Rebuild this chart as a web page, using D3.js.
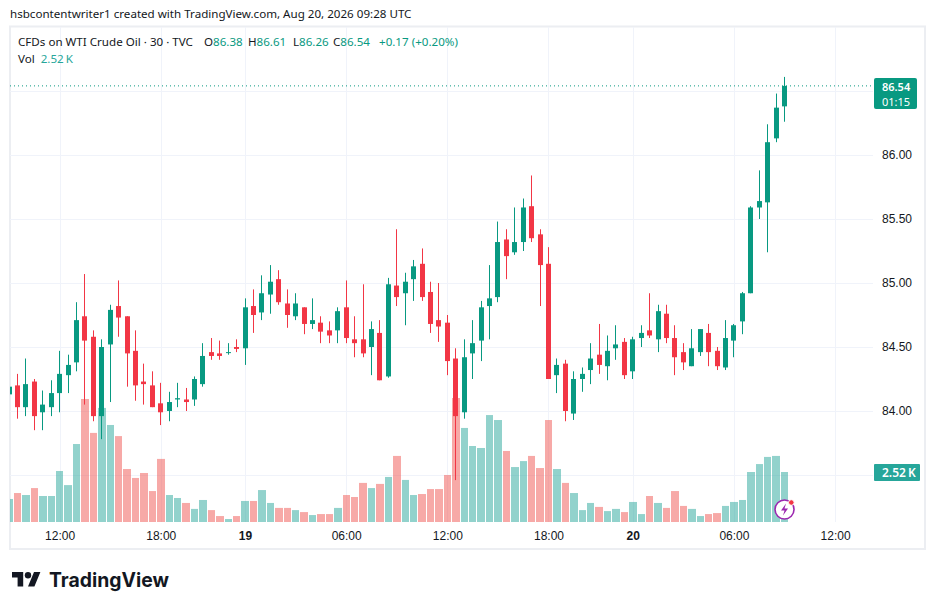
<!DOCTYPE html>
<html lang="en">
<head>
<meta charset="UTF-8">
<title>CFDs on WTI Crude Oil · 30 · TVC</title>
<script src="https://d3js.org/d3.v7.min.js"></script>
<style>
  body { margin: 0; background: #fff; }
  svg { display: block; font-family: "Noto Sans", "Open Sans", sans-serif; }
  .axis text { font-size: 12px; fill: #131722; }
</style>
</head>
<body>
<svg id="chart" width="935" height="610"></svg>
<script>
// 30 min bars, Aug 18 09:00 UTC to Aug 20 09:00 UTC (index = bar number, daily break skipped)
const opens = [84.13, 84.20, 84.03, 84.23, 83.99, 84.03, 84.14, 84.28, 84.38, 84.74,
  84.58, 83.96, 84.52, 84.82, 84.74, 84.47, 84.23, 84.20, 84.06, 84.00,
  84.09, 84.09, 84.09, 84.21, 84.46, 84.45, 84.455, 84.50, 84.49, 84.82,
  84.77, 84.91, 85.03, 84.84, 84.74, 84.81, 84.68, 84.69, 84.63, 84.63,
  84.81, 84.56, 84.56, 84.50, 84.61, 84.27, 84.98, 84.92, 85.03, 85.15,
  84.93, 84.71, 84.69, 84.41, 83.99, 84.45, 84.55, 84.82, 84.89, 85.34,
  85.24, 85.32, 85.60, 85.38, 85.15, 84.28, 84.37, 83.98, 84.25, 84.32,
  84.44, 84.35, 84.49, 84.54, 84.31, 84.57, 84.63, 84.56, 84.76, 84.57,
  84.46, 84.35, 84.46, 84.61, 84.47, 84.34, 84.55, 84.70, 84.92, 85.59,
  85.63, 86.13, 86.38];
const highs = [84.22, 84.29, 84.41, 84.25, 84.16, 84.24, 84.47, 84.44, 84.85, 85.07,
  84.63, 84.56, 84.83, 85.02, 84.74, 84.63, 84.37, 84.31, 84.22, 84.15,
  84.22, 84.18, 84.27, 84.53, 84.57, 84.55, 84.53, 84.56, 84.88, 84.95,
  85.06, 85.14, 85.10, 84.95, 84.92, 84.81, 84.88, 84.74, 84.70, 84.81,
  85.02, 84.74, 84.99, 84.70, 84.71, 85.04, 85.42, 85.08, 85.18, 85.27,
  85.01, 85.00, 84.75, 84.49, 84.56, 84.71, 84.86, 85.14, 85.48, 85.42,
  85.59, 85.66, 85.84, 85.42, 85.28, 84.41, 84.40, 84.31, 84.34, 84.53,
  84.68, 84.59, 84.67, 84.57, 84.58, 84.67, 84.92, 84.83, 84.83, 84.67,
  84.53, 84.64, 84.64, 84.68, 84.50, 84.71, 84.68, 84.93, 85.60, 85.88,
  86.24, 86.48, 86.61];
const lows = [84.10, 83.94, 83.96, 83.85, 83.85, 83.96, 83.99, 84.14, 84.31, 84.05,
  83.92, 83.78, 84.07, 84.58, 84.19, 84.08, 84.05, 84.03, 83.89, 83.92,
  84.03, 84.00, 84.04, 84.19, 84.40, 84.40, 84.44, 84.46, 84.36, 84.61,
  84.71, 84.76, 84.83, 84.65, 84.71, 84.60, 84.64, 84.53, 84.53, 84.53,
  84.53, 84.42, 84.42, 84.28, 84.24, 84.26, 84.82, 84.67, 84.86, 84.86,
  84.61, 84.54, 84.28, 83.46, 83.94, 84.25, 84.39, 84.56, 84.85, 85.03,
  85.22, 85.25, 85.32, 84.82, 84.25, 84.14, 83.92, 83.93, 84.15, 84.21,
  84.29, 84.24, 84.40, 84.25, 84.25, 84.50, 84.57, 84.46, 84.53, 84.28,
  84.32, 84.35, 84.43, 84.35, 84.32, 84.32, 84.42, 84.60, 84.92, 85.50,
  85.24, 86.10, 86.26];
const closes = [84.19, 84.03, 84.21, 83.96, 84.05, 84.14, 84.29, 84.36, 84.71, 84.55,
  83.96, 84.50, 84.79, 84.73, 84.45, 84.20, 84.21, 84.03, 83.99, 84.07,
  84.10, 84.07, 84.25, 84.43, 84.43, 84.43, 84.46, 84.485, 84.81, 84.75,
  84.92, 85.01, 84.85, 84.75, 84.84, 84.68, 84.71, 84.62, 84.59, 84.78,
  84.57, 84.53, 84.45, 84.64, 84.24, 84.99, 84.89, 85.01, 85.13, 84.89,
  84.68, 84.66, 84.39, 83.96, 84.42, 84.53, 84.81, 84.88, 85.32, 85.21,
  85.32, 85.59, 85.35, 85.14, 84.25, 84.36, 84.00, 84.25, 84.29, 84.41,
  84.36, 84.47, 84.52, 84.28, 84.56, 84.61, 84.59, 84.78, 84.57, 84.42,
  84.38, 84.49, 84.64, 84.46, 84.35, 84.57, 84.67, 84.92, 85.59, 85.64,
  86.10, 86.37, 86.54];
// volume in thousands
const volumes = [1.16, 1.46, 1.36, 1.71, 1.31, 1.31, 2.57, 1.86, 3.93, 6.20,
  4.49, 5.75, 4.89, 4.33, 2.67, 2.22, 2.47, 1.56, 3.18, 1.36,
  1.21, 0.96, 0.66, 1.11, 0.60, 0.30, 0.15, 0.30, 1.06, 1.06,
  1.61, 0.96, 0.71, 0.71, 0.60, 0.50, 0.35, 0.40, 0.40, 0.71,
  1.36, 1.26, 1.97, 1.71, 1.92, 2.27, 3.33, 2.12, 1.36, 1.41,
  1.66, 1.66, 2.37, 6.25, 4.74, 3.83, 3.73, 5.39, 5.14, 3.58,
  2.77, 3.07, 3.33, 2.72, 5.14, 2.67, 1.97, 1.46, 0.60, 0.96,
  0.76, 0.55, 0.66, 0.50, 1.01, 0.40, 1.31, 0.96, 0.71, 1.56,
  0.81, 0.66, 0.30, 0.40, 0.45, 0.81, 1.01, 1.11, 2.52, 2.92,
  3.28, 3.33, 2.52];
const timeTickBars = [6, 18, 28, 40, 52, 64, 74, 86, 98];
const timeTickLabels = ["12:00", "18:00", "19", "06:00", "12:00", "18:00", "20", "06:00", "12:00"];
const priceTicks = [84, 84.5, 85, 85.5, 86];
const gridPrices = [83.5, 84, 84.5, 85, 85.5, 86, 86.5];

const up = "#089981", down = "#f23645";
const upVol = "rgba(38,166,154,0.5)", downVol = "rgba(239,83,80,0.5)";
const plot = { left: 10, right: 873, top: 27, bottom: 522 };

const svg = d3.select("#chart");

const bars = opens.map((o, i) => ({ i, o, h: highs[i], l: lows[i], c: closes[i], v: volumes[i] }));
const last = bars[bars.length - 1];

const x = d3.scaleLinear().domain([0, 98]).range([9, 835.1]);
const y = d3.scaleLinear().domain([84, 86]).range([411, 155]);
const yVol = d3.scaleLinear().domain([0, 2.52]).range([plot.bottom, 472]);

// header
svg.append("text")
   .attr("x", 10).attr("y", 18)
   .attr("font-size", 11.6).attr("fill", "#131722")
   .text("hsbcontentwriter1 created with TradingView.com, Aug 20, 2026 09:28 UTC");

// frame
svg.append("rect")
   .attr("x", 10).attr("y", 26.5)
   .attr("width", 915).attr("height", 522.5)
   .attr("fill", "none").attr("stroke", "#eceef2").attr("stroke-width", 2);

svg.append("clipPath").attr("id", "plotClip")
   .append("rect")
   .attr("x", plot.left).attr("y", plot.top)
   .attr("width", plot.right - plot.left).attr("height", plot.bottom - plot.top);

const grid = svg.append("g").attr("stroke", "#f0f3fa").attr("stroke-width", 1);
grid.selectAll(".hgrid").data(gridPrices).enter().append("line")
    .attr("x1", plot.left).attr("x2", plot.right)
    .attr("y1", d => Math.round(y(d)) + 0.5).attr("y2", d => Math.round(y(d)) + 0.5);
grid.selectAll(".vgrid").data(timeTickBars).enter().append("line")
    .attr("x1", d => Math.round(x(d)) + 0.5).attr("x2", d => Math.round(x(d)) + 0.5)
    .attr("y1", plot.top).attr("y2", plot.bottom);

const chart = svg.append("g").attr("clip-path", "url(#plotClip)");

// volume bars
chart.selectAll(".vol").data(bars).enter().append("rect")
     .attr("x", d => Math.round(x(d.i) - 3.6))
     .attr("width", d => Math.round(x(d.i + 1) - 3.6) - Math.round(x(d.i) - 3.6) - 1)
     .attr("y", d => yVol(d.v))
     .attr("height", d => plot.bottom - yVol(d.v))
     .attr("fill", d => d.c >= d.o ? upVol : downVol);

// candles
const candle = chart.selectAll(".candle").data(bars).enter().append("g");
candle.append("line")
      .attr("x1", d => Math.round(x(d.i) - 2.5) + 2.5).attr("x2", d => Math.round(x(d.i) - 2.5) + 2.5)
      .attr("y1", d => y(d.h)).attr("y2", d => y(d.l))
      .attr("stroke", d => d.c >= d.o ? up : down).attr("stroke-width", 1);
candle.append("rect")
      .attr("x", d => Math.round(x(d.i) - 2.5))
      .attr("width", 5)
      .attr("y", d => y(Math.max(d.o, d.c)))
      .attr("height", d => Math.max(1, Math.abs(y(d.o) - y(d.c))))
      .attr("fill", d => d.c >= d.o ? up : down);

// last price line
svg.append("line")
   .attr("x1", plot.left).attr("x2", plot.right)
   .attr("y1", y(last.c)).attr("y2", y(last.c))
   .attr("stroke", up).attr("stroke-width", 1).attr("stroke-dasharray", "1 3");

// price axis
const yAxis = svg.append("g").attr("class", "axis")
   .attr("transform", `translate(${plot.right - 3},0)`)
   .call(d3.axisRight(y).tickValues(priceTicks).tickFormat(d3.format(".2f")).tickSize(0).tickPadding(12));
yAxis.select(".domain").remove();
yAxis.selectAll("text").attr("font-family", "inherit");

// time axis
const xAxis = svg.append("g").attr("class", "axis")
   .attr("transform", `translate(0,${plot.bottom})`)
   .call(d3.axisBottom(x).tickValues(timeTickBars).tickFormat((d, i) => timeTickLabels[i]).tickSize(0).tickPadding(9));
xAxis.select(".domain").remove();
xAxis.selectAll("text")
     .attr("font-family", "inherit")
     .attr("font-weight", (d, i) => timeTickLabels[i].length === 2 ? 600 : 400);

// last price label
const priceTag = svg.append("g").attr("transform", `translate(874,${Math.round(y(last.c)) - 8})`);
priceTag.append("rect").attr("width", 43).attr("height", 31).attr("rx", 2).attr("fill", up);
priceTag.append("text").attr("x", 8).attr("y", 12.5).attr("font-size", 11).attr("font-weight", 600)
        .attr("fill", "#fff").text(d3.format(".2f")(last.c));
priceTag.append("text").attr("x", 8).attr("y", 27.5).attr("font-size", 11)
        .attr("fill", "#fff").text("01:15");

// last volume label
const volTag = svg.append("g").attr("transform", `translate(874,${Math.round(yVol(last.v)) - 8})`);
volTag.append("rect").attr("width", 46).attr("height", 17).attr("rx", 1).attr("fill", "#26a69a");
volTag.append("text").attr("x", 8).attr("y", 13).attr("font-size", 12).attr("font-weight", 600)
      .attr("fill", "#fff").text(last.v.toFixed(2) + "\u202FK");

// legend
const legend = svg.append("g").attr("font-size", 11.6).attr("fill", "#131722");
legend.append("text").attr("x", 18).attr("y", 46).text("CFDs on WTI Crude Oil · 30 · TVC");
const ohlc = [["O", last.o, 204], ["H", last.h, 248], ["L", last.l, 293], ["C", last.c, 333]];
ohlc.forEach(([k, v, px]) => {
  const t = legend.append("text").attr("x", px).attr("y", 46);
  t.append("tspan").text(k);
  t.append("tspan").attr("fill", up).text(v.toFixed(2));
});
const prevClose = closes[closes.length - 2];
const chg = last.c - prevClose;
legend.append("text").attr("x", 379).attr("y", 46).attr("fill", up)
      .text(`+${chg.toFixed(2)} (+${(chg / prevClose * 100).toFixed(2)}%)`);
const volLine = legend.append("text").attr("x", 18).attr("y", 63);
volLine.append("tspan").text("Vol");
volLine.append("tspan").attr("dx", 6).attr("fill", "#26a69a").text(last.v.toFixed(2) + "\u202FK");

// alert icon
const icon = svg.append("g").attr("transform", `translate(${x(92)},509.5)`);
icon.append("circle").attr("r", 9.5).attr("fill", "#fff").attr("stroke", "#9c27b0").attr("stroke-width", 1.6);
icon.append("path").attr("d", "M1.5,-6 L-3.5,1 L0,1 L-1.5,6 L3.5,-1 L0,-1 Z").attr("fill", "#9c27b0");
icon.append("circle").attr("cx", 6.8).attr("cy", -7).attr("r", 2.8).attr("fill", "#f23645").attr("stroke", "#fff").attr("stroke-width", 1);

// logo
const logo = svg.append("g").attr("fill", "#131722");
logo.append("path").attr("transform", "translate(12,568.8) scale(0.8)")
    .attr("d", "M14 22H7V11H0V4h14v18zM28 22h-8l7.5-18h8L28 22z");
logo.append("circle").attr("transform", "translate(12,568.8) scale(0.8)")
    .attr("cx", 20).attr("cy", 8).attr("r", 4);
logo.append("text").attr("x", 49).attr("y", 586.5)
    .attr("font-family", "Inter, 'Noto Sans', sans-serif")
    .attr("font-size", 20).attr("font-weight", 700)
    .attr("textLength", 120).attr("lengthAdjust", "spacingAndGlyphs")
    .text("TradingView");
</script>
</body>
</html>
